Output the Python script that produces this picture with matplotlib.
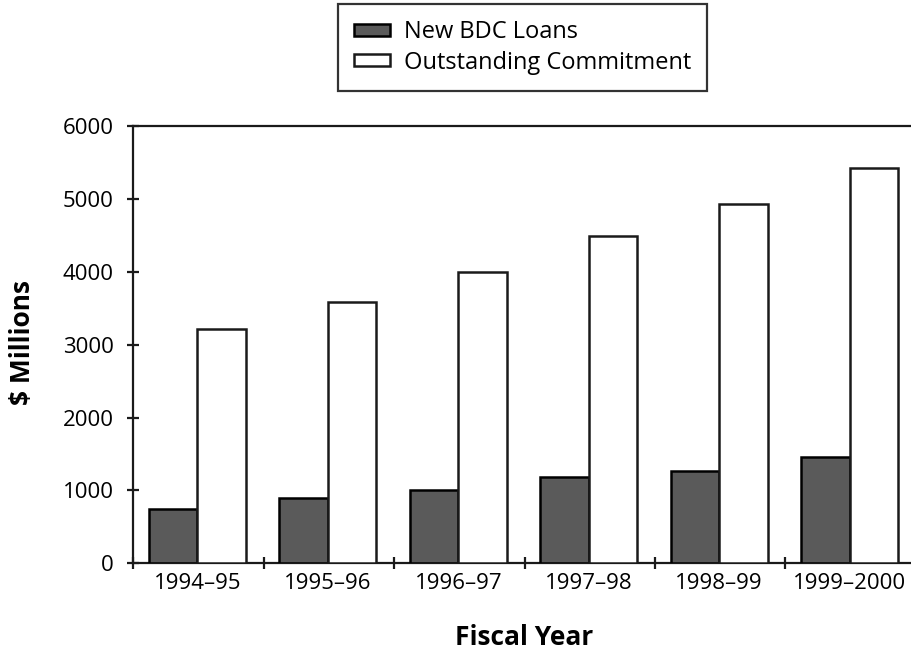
import matplotlib
matplotlib.use("Agg")
import matplotlib.pyplot as plt
import numpy as np

plt.rcParams['font.family'] = ['Open Sans', 'DejaVu Sans']

years = ["1994–95", "1995–96", "1996–97", "1997–98", "1998–99", "1999–2000"]
new_loans = [750, 890, 1000, 1180, 1260, 1460]
outstanding = [3210, 3580, 4000, 4490, 4930, 5430]
series_names = ["New BDC Loans", "Outstanding Commitment"]

fig = plt.figure(figsize=(9.12, 6.54), dpi=100)
ax = fig.add_axes([0.1462, 0.1387, 0.858, 0.6687])

centers = np.arange(len(years)) + 0.492
w = 0.372
edge = "#1a1a1a"
ax.bar(centers - w / 2, new_loans, w, color="#5a5a5a", edgecolor="#000000",
       linewidth=1.8, label=series_names[0], zorder=3)
ax.bar(centers + w / 2, outstanding, w, color="white", edgecolor=edge,
       linewidth=1.8, label=series_names[1], zorder=3)

ax.set_xlim(0, len(years))
ax.set_ylim(0, 6000)
ax.set_yticks(np.arange(0, 6001, 1000))

# group boundaries carry tick marks, group centres carry labels
ax.set_xticks(np.arange(0, len(years) + 1))
ax.set_xticklabels([])
ax.set_xticks(centers, minor=True)
ax.set_xticklabels(years, minor=True, fontsize=16)
ax.tick_params(axis="x", which="major", direction="inout", length=8, width=1.6, color=edge)
ax.tick_params(axis="x", which="minor", length=0, pad=7)
ax.tick_params(axis="y", direction="inout", length=8, width=1.6, color=edge,
               labelsize=16, pad=10)

for side in ("left", "top", "bottom"):
    ax.spines[side].set_linewidth(1.6)
    ax.spines[side].set_color(edge)
ax.spines["right"].set_visible(False)

ax.set_ylabel("$ Millions", fontsize=19, fontweight="bold")
ax.yaxis.label.set_va("center")
ax.yaxis.set_label_coords(-0.142, 0.506)
ax.set_xlabel("Fiscal Year", fontsize=19, fontweight="bold")
ax.xaxis.label.set_va("center")
ax.xaxis.set_label_coords(0.5, -0.170)

leg = fig.legend(loc="upper center", bbox_to_anchor=(0.573, 0.994), fontsize=17,
                 frameon=True, fancybox=False, handlelength=1.5, handleheight=0.4,
                 handletextpad=0.6, borderpad=0.68, labelspacing=0.28, borderaxespad=0)
leg.get_frame().set_edgecolor("#000000")
leg.get_frame().set_linewidth(1.6)

fig.savefig("out.png", dpi=100)
